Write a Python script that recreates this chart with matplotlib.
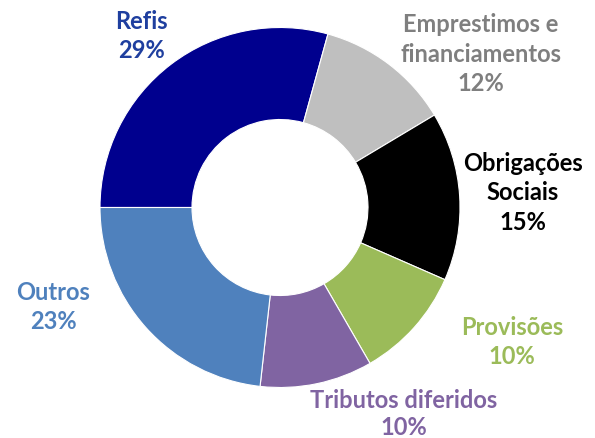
import matplotlib
matplotlib.use("Agg")
import matplotlib.pyplot as plt

# Data (clockwise from 9 o'clock)
categories = ["Refis", "Emprestimos e\nfinanciamentos", "Obrigações\nSociais", "Provisões",
              "Tributos diferidos", "Outros"]
values = [29, 12, 15, 10, 10, 23]
wedge_colors = ["#00008E", "#BFBFBF", "#000000", "#9BBB59", "#8064A2", "#4F81BD"]
text_colors = ["#1F3F9F", "#7F7F7F", "#000000", "#9BBB59", "#8064A2", "#4F81BD"]

W, H = 595, 439
fig = plt.figure(figsize=(W / 100, H / 100), dpi=100)
ax = fig.add_axes([0, 0, 1, 1])

cx, cy = 280, H - 208.5
R, r_in = 180, 88
ax.pie(values, colors=wedge_colors, startangle=180, counterclock=False,
       center=(cx, cy), radius=R, frame=True,
       wedgeprops=dict(width=R - r_in, edgecolor="white", linewidth=0.8))
ax.set_xlim(0, W)
ax.set_ylim(0, H)
ax.set_aspect("equal")
ax.axis("off")

# label positions (pixel coords, top-left origin)
label_pos = [(141, 36), (481, 54), (523, 193), (512, 342), (404, 414), (53, 307)]
spacing = [1.33, 1.33, 1.33, 1.33, 1.25, 1.33]
for cat, v, col, (x, y), ls in zip(categories, values, text_colors, label_pos, spacing):
    ax.text(x, H - y, f"{cat}\n{v}%", ha="center", va="center", color=col,
            fontsize=17, fontweight="bold", family=["Lato", "DejaVu Sans"],
            linespacing=ls)

fig.savefig("out.png", dpi=100)
